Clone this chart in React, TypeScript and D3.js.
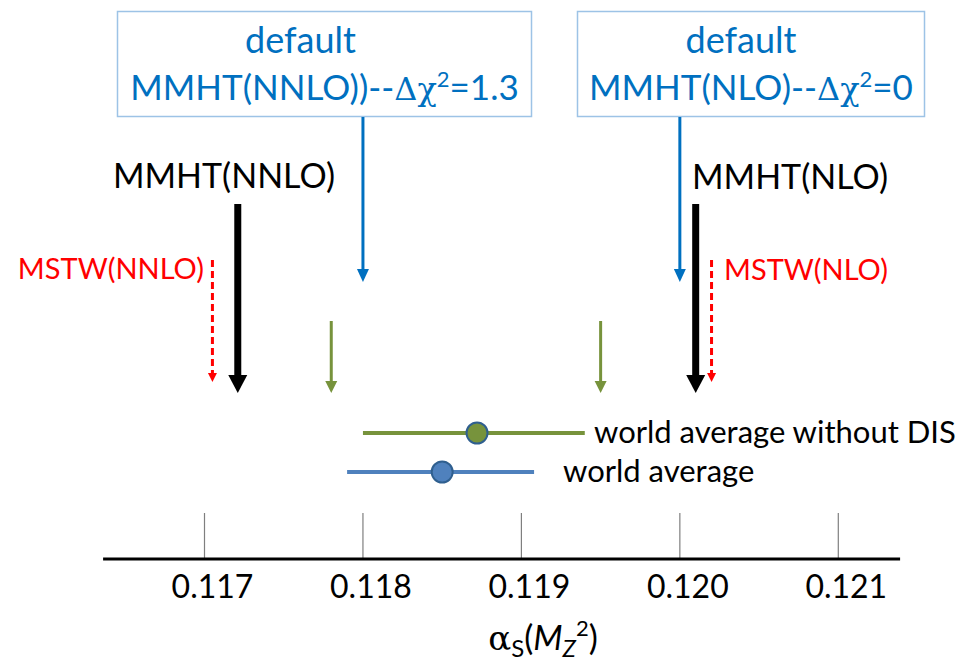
import React from 'react';
import * as d3 from 'd3';

// alpha_s(M_Z^2) values
const tickValues = [0.117, 0.118, 0.119, 0.12, 0.121];
const boxTitles = ['default', 'default'];
const boxLabels = ['MMHT(NNLO))--', 'MMHT(NLO)--'];
const boxChi2 = ['1.3', '0'];
const defaultValues = [0.118, 0.12];
const mmhtLabels = ['MMHT(NNLO)', 'MMHT(NLO)'];
const mmhtValues = [0.11721, 0.1201];
const mstwLabels = ['MSTW(NNLO)', 'MSTW(NLO)'];
const mstwValues = [0.11705, 0.1202];
const greenArrowValues = [0.1178, 0.1195];
const averageLabels = ['world average without DIS', 'world average'];
const averageCentral = [0.11872, 0.1185];
const averageLow = [0.118, 0.1179];
const averageHigh = [0.1194, 0.11908];

const W = 958;
const H = 663;
const FONT = 'Lato, "Open Sans", sans-serif';

const BLUE_TEXT = '#0070c0';
const BOX_STROKE = '#9dc3e6';
const GREEN = '#77933c';
const AVG_BLUE = '#4f81bd';
const RED = '#ff0000';

// box frames (layout only)
const boxes = [
  { x: 117.5, y: 11.5, w: 414, h: 105, titleDx: -24 },
  { x: 577.5, y: 11.5, w: 347, h: 105, titleDx: -10 },
];

const x = d3.scaleLinear().domain([0.117, 0.121]).range([204.5, 838.3]);
const axisY = 559;

interface ArrowProps {
  v: number;
  y1: number;
  y2: number;
  color: string;
  width: number;
  headW: number;
  headL: number;
  dash?: string;
}

function Arrow({ v, y1, y2, color, width, headW, headL, dash }: ArrowProps) {
  const cx = x(v);
  const head = d3.path();
  head.moveTo(cx - headW / 2, y2 - headL);
  head.lineTo(cx + headW / 2, y2 - headL);
  head.lineTo(cx, y2);
  head.closePath();
  return (
    <g>
      <line
        x1={cx}
        x2={cx}
        y1={y1}
        y2={y2 - headL + 1}
        stroke={color}
        strokeWidth={width}
        strokeDasharray={dash}
      />
      <path d={head.toString()} fill={color} />
    </g>
  );
}

export default function App() {
  const fmt = d3.format('.3f');
  const [axisMin, axisMax] = [0.11636, 0.12139];

  return (
    <svg
      width={W}
      height={H}
      style={{ position: 'absolute', left: 0, top: 0, background: '#fff' }}
      fontFamily={FONT}
    >
      {/* blue "default" boxes */}
      {boxes.map((b, i) => {
        const cx = b.x + b.w / 2;
        return (
          <g key={'box' + i}>
            <rect x={b.x} y={b.y} width={b.w} height={b.h} fill="#fff" stroke={BOX_STROKE} strokeWidth={1.5} />
            <text x={cx + b.titleDx} y={53} textAnchor="middle" fill={BLUE_TEXT} fontSize={36}>
              {boxTitles[i]}
            </text>
            <text x={cx} y={100} textAnchor="middle" fill={BLUE_TEXT} fontSize={35}>
              {boxLabels[i]}
              <tspan fontFamily='"DejaVu Serif", serif' fontSize={32}>Δχ</tspan>
              <tspan dy={-13} fontSize={22}>2</tspan>
              <tspan dy={13}>={boxChi2[i]}</tspan>
            </text>
          </g>
        );
      })}

      {/* arrows from the boxes */}
      {defaultValues.map((v, i) => (
        <Arrow key={'d' + i} v={v} y1={117} y2={282} color={BLUE_TEXT} width={3} headW={12} headL={13} />
      ))}

      {/* MMHT */}
      {mmhtValues.map((v, i) => (
        <Arrow key={'m' + i} v={v} y1={204} y2={393} color="#000" width={7} headW={19} headL={18} />
      ))}
      <text x={224} y={188} textAnchor="middle" fontSize={34} fill="#000">{mmhtLabels[0]}</text>
      <text x={692} y={189} textAnchor="start" fontSize={34} fill="#000">{mmhtLabels[1]}</text>

      {/* MSTW */}
      {mstwValues.map((v, i) => (
        <Arrow key={'s' + i} v={v} y1={260} y2={382} color={RED} width={3} headW={9} headL={9} dash="7,4" />
      ))}
      <text x={204} y={279} textAnchor="end" fontSize={29} fill={RED}>{mstwLabels[0]}</text>
      <text x={724} y={280} textAnchor="start" fontSize={29} fill={RED}>{mstwLabels[1]}</text>

      {/* green arrows */}
      {greenArrowValues.map((v, i) => (
        <Arrow key={'g' + i} v={v} y1={321} y2={393} color={GREEN} width={3} headW={12} headL={12} />
      ))}

      {/* world averages */}
      {averageLabels.map((label, i) => {
        const y = i === 0 ? 433 : 472;
        const color = i === 0 ? GREEN : AVG_BLUE;
        const textX = i === 0 ? 594 : 563;
        return (
          <g key={'a' + i}>
            <line x1={x(averageLow[i])} x2={x(averageHigh[i])} y1={y} y2={y} stroke={color} strokeWidth={4} />
            <circle cx={x(averageCentral[i])} cy={y} r={10.5} fill={color} stroke="#2f5f8f" strokeWidth={2} />
            <text x={textX} y={y + 10} fontSize={31} fill="#000">{label}</text>
          </g>
        );
      })}

      {/* axis */}
      {tickValues.map((t) => (
        <g key={'t' + t}>
          <line x1={x(t)} x2={x(t)} y1={513} y2={axisY} stroke="#7f7f7f" strokeWidth={1.2} />
          <text x={x(t) + 8} y={598} textAnchor="middle" fontSize={32} fill="#000">{fmt(t)}</text>
        </g>
      ))}
      <line x1={x(axisMin)} x2={x(axisMax)} y1={axisY} y2={axisY} stroke="#000" strokeWidth={3} />

      <text x={543} y={650} textAnchor="middle" fontSize={34} fill="#000">
        <tspan fontFamily='"DejaVu Serif", serif'>α</tspan>
        <tspan dy={7} fontSize={24}>S</tspan>
        <tspan dy={-7}>(</tspan>
        <tspan fontStyle="italic">M</tspan>
        <tspan dy={7} fontSize={24} fontStyle="italic">Z</tspan>
        <tspan dy={-21} fontSize={22}>2</tspan>
        <tspan dy={14}>)</tspan>
      </text>
    </svg>
  );
}
